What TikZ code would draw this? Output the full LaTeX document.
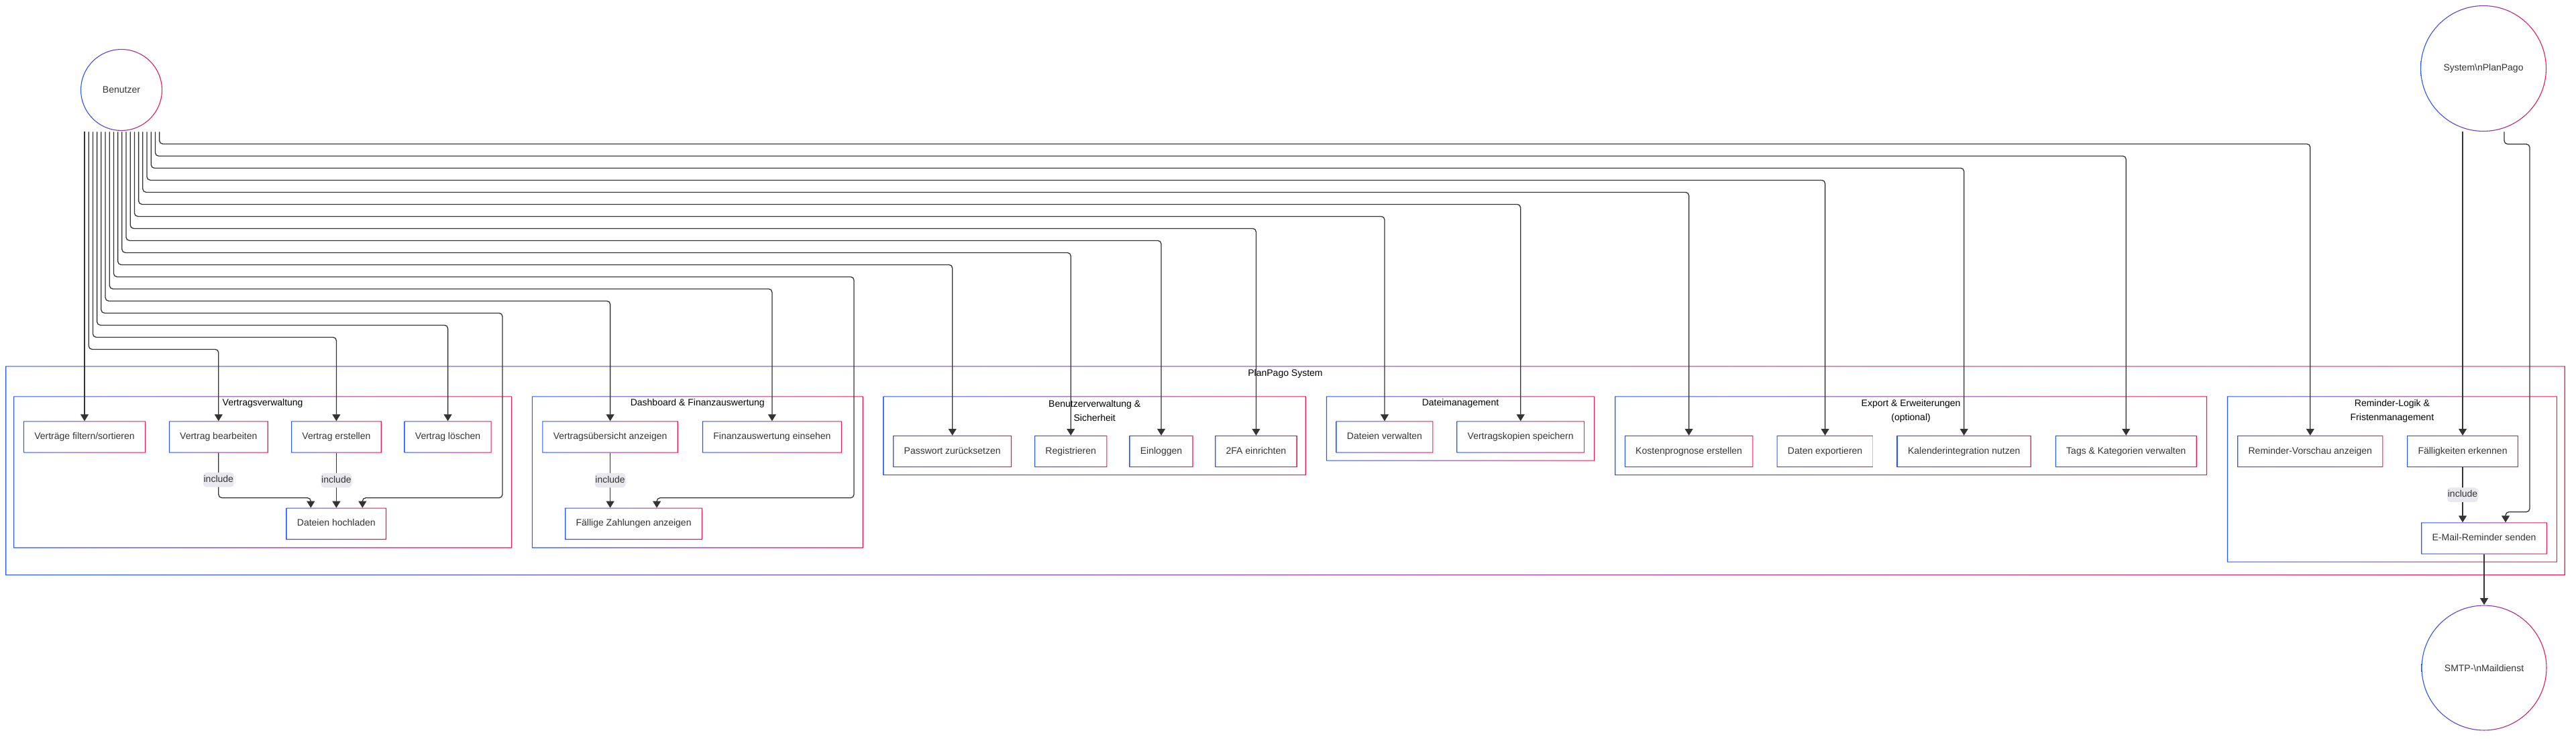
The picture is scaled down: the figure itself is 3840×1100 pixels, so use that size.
\documentclass[tikz,border=0pt]{standalone}
\usepackage{fontspec}
\setmainfont{Liberation Sans}
\usetikzlibrary{arrows.meta,calc,backgrounds}
\definecolor{ublue}{RGB}{37,84,255}
\definecolor{ured}{RGB}{234,24,84}
\definecolor{inkgray}{HTML}{333333}
\definecolor{lblbg}{RGB}{232,232,238}
\begin{document}
\begin{tikzpicture}[x=0.5pt,y=-0.5pt,
    font=\fontsize{7}{10.5}\selectfont,
    >={Triangle[width=6pt,length=5pt]},
    uc/.style={fill=white,text=inkgray,minimum height=23.3pt,inner xsep=8pt,inner ysep=0pt,text height=5.1pt,text depth=1.5pt},
    actor/.style={circle,fill=white,text=inkgray,inner sep=0pt},
    gbox/.style={fill=white,inner sep=0pt},
    grp/.style={text=black,align=center,inner sep=0pt},
    grad/.style={left color=ublue,right color=ured,even odd rule},
    flow/.style={draw=inkgray,line width=0.65pt,rounded corners=2.5pt},
    inc/.style={fill=lblbg,text=inkgray,inner xsep=0.4pt,inner ysep=0pt,minimum height=10.8pt,text height=5.1pt,text depth=1.5pt}]
  \useasboundingbox (0,0) rectangle (3840,1100);

  \begin{scope}[on background layer]
    \node[gbox, minimum width=1907.4pt, minimum height=155.5pt] (gsystem) at (1916,701.2) {};
    \node[gbox, minimum width=371.2pt, minimum height=112.7pt] (gvertrag) at (391.6,703.4) {};
    \node[gbox, minimum width=246.6pt, minimum height=112.7pt] (gdashboard) at (1039.8,703.4) {};
    \node[gbox, minimum width=314.7pt, minimum height=58.5pt] (gbenutzer) at (1631.7,649.2) {};
    \node[gbox, minimum width=199.7pt, minimum height=47.8pt] (gdatei) at (2177,638.5) {};
    \node[gbox, minimum width=441pt, minimum height=58.5pt] (gexport) at (2848.6,649.2) {};
    \node[gbox, minimum width=245.6pt, minimum height=123.3pt] (greminder) at (3565.9,714) {};
    \foreach \g in {gsystem,gvertrag,gdashboard,gbenutzer,gdatei,gexport,greminder}
      \shade[grad] (\g.south west) rectangle (\g.north east)
        ([shift={(0.55pt,0.55pt)}]\g.south west) rectangle ([shift={(-0.55pt,-0.55pt)}]\g.north east);
    \node[grp] (tsystem) at (1916,557) {PlanPago System};
    \node[grp] (tvertrag) at (391.6,601) {Vertragsverwaltung};
    \node[grp] (tdashboard) at (1039.8,601) {Dashboard \& Finanzauswertung};
    \node[grp] (tbenutzer) at (1631.7,612.2) {Benutzerverwaltung \&\\Sicherheit};
    \node[grp] (tdatei) at (2177,601) {Dateimanagement};
    \node[grp] (texport) at (2848.6,612.2) {Export \& Erweiterungen\\(optional)};
    \node[grp] (treminder) at (3565.9,612.2) {Reminder-Logik \&\\Fristenmanagement};
  \end{scope}

  \node[actor, minimum size=61pt] (benutzer) at (181,134) {Benutzer};
  \node[actor, minimum size=94pt] (system) at (3702,102) {System\textbackslash nPlanPago};
  \node[actor, minimum size=93.5pt] (smtp) at (3703,995) {SMTP-\textbackslash nMaildienst};
  \shade[grad] (benutzer.center) circle (30.5pt) circle (29.95pt);
  \shade[grad] (system.center) circle (47pt) circle (46.45pt);
  \shade[grad] (smtp.center) circle (46.75pt) circle (46.2pt);

  \node[uc] (filtern) at (126,651) {Verträge filtern/sortieren};
  \node[uc] (bearbeiten) at (325.8,651) {Vertrag bearbeiten};
  \node[uc] (erstellen) at (501.4,651) {Vertrag erstellen};
  \node[uc] (loeschen) at (667.6,651) {Vertrag löschen};
  \node[uc] (hochladen) at (501.3,780.3) {Dateien hochladen};
  \node[uc] (uebersicht) at (909.6,651) {Vertragsübersicht anzeigen};
  \node[uc] (finanz) at (1150.9,651) {Finanzauswertung einsehen};
  \node[uc] (faellig) at (944.6,780.3) {Fällige Zahlungen anzeigen};
  \node[uc] (passwort) at (1419.7,672.5) {Passwort zurücksetzen};
  \node[uc] (registrieren) at (1596.2,672.5) {Registrieren};
  \node[uc] (einloggen) at (1731,672.5) {Einloggen};
  \node[uc] (zweifa) at (1872.4,672.5) {2FA einrichten};
  \node[uc] (dverwalten) at (2064,651) {Dateien verwalten};
  \node[uc] (kopien) at (2266.7,651) {Vertragskopien speichern};
  \node[uc] (prognose) at (2517.6,672.5) {Kostenprognose erstellen};
  \node[uc] (exportieren) at (2720.6,672.5) {Daten exportieren};
  \node[uc] (kalender) at (2927.7,672.5) {Kalenderintegration nutzen};
  \node[uc] (tags) at (3169.3,672.5) {Tags \& Kategorien verwalten};
  \node[uc] (vorschau) at (3443.8,672.5) {Reminder-Vorschau anzeigen};
  \node[uc] (faelligkeiten) at (3671,672.5) {Fälligkeiten erkennen};
  \node[uc] (email) at (3703,802) {E-Mail-Reminder senden};
  \foreach \n in {filtern,bearbeiten,erstellen,loeschen,hochladen,uebersicht,finanz,faellig,passwort,registrieren,einloggen,zweifa,dverwalten,kopien,prognose,exportieren,kalender,tags,vorschau,faelligkeiten,email}
    \shade[grad] (\n.south west) rectangle (\n.north east)
      ([shift={(0.55pt,0.55pt)}]\n.south west) rectangle ([shift={(-0.55pt,-0.55pt)}]\n.north east);

  \draw [flow,->] ($(benutzer.south)+(-55,1)$) -- (filtern);
  \draw [flow,->] ($(benutzer.south)+(-48.8,1)$) -- ++(0,324) -| (bearbeiten);
  \draw [flow,->] ($(benutzer.south)+(-42.6,1)$) -- ++(0,306) -| (erstellen);
  \draw [flow,->] ($(benutzer.south)+(-36.4,1)$) -- ++(0,288) -| (loeschen);
  \draw [flow,->] ($(benutzer.south)+(-30.2,1)$) -- ++(0,270) -| (749,741.7) -| ($(hochladen.north)+(39,0)$);
  \draw [flow,->] ($(benutzer.south)+(-24,1)$) -- ++(0,252) -| (uebersicht);
  \draw [flow,->] ($(benutzer.south)+(-17.8,1)$) -- ++(0,234) -| (finanz);
  \draw [flow,->] ($(benutzer.south)+(-11.6,1)$) -- ++(0,216) -| (1273,741.7) -| ($(faellig.north)+(34.5,0)$);
  \draw [flow,->] ($(benutzer.south)+(-5.4,1)$) -- ++(0,198) -| (passwort);
  \draw [flow,->] ($(benutzer.south)+(0.8,1)$) -- ++(0,180) -| (registrieren);
  \draw [flow,->] ($(benutzer.south)+(7,1)$) -- ++(0,162) -| (einloggen);
  \draw [flow,->] ($(benutzer.south)+(13.2,1)$) -- ++(0,144) -| (zweifa);
  \draw [flow,->] ($(benutzer.south)+(19.4,1)$) -- ++(0,126) -| (dverwalten);
  \draw [flow,->] ($(benutzer.south)+(25.6,1)$) -- ++(0,108) -| (kopien);
  \draw [flow,->] ($(benutzer.south)+(31.8,1)$) -- ++(0,90) -| (prognose);
  \draw [flow,->] ($(benutzer.south)+(38,1)$) -- ++(0,72) -| (exportieren);
  \draw [flow,->] ($(benutzer.south)+(44.2,1)$) -- ++(0,54) -| (kalender);
  \draw [flow,->] ($(benutzer.south)+(50.4,1)$) -- ++(0,36) -| (tags);
  \draw [flow,->] ($(benutzer.south)+(56.6,1)$) -- ++(0,18) -| (vorschau);

  \draw [flow,->] (bearbeiten) |- node[inc,pos=0.3] {include} (463.3,741.7) -- ($(hochladen.north)+(-38,0)$);
  \draw [flow,->] (erstellen) -- node[inc] {include} (erstellen |- hochladen.north);
  \draw [flow,->] (uebersicht) -- node[inc] {include} (uebersicht |- faellig.north);
  \draw [flow,->] (faelligkeiten) -- node[inc] {include} ($(email.north)+(-32,0)$);

  \draw [flow,->] ($(system.south)+(-31,0)$) -- (faelligkeiten);
  \draw [flow,->] ($(system.south)+(31,0)$) -- ++(0,18.3) -| (3771,762.7) -| ($(email.north)+(32,0)$);
  \draw [flow,->] (email) -- (smtp);
\end{tikzpicture}
\end{document}
